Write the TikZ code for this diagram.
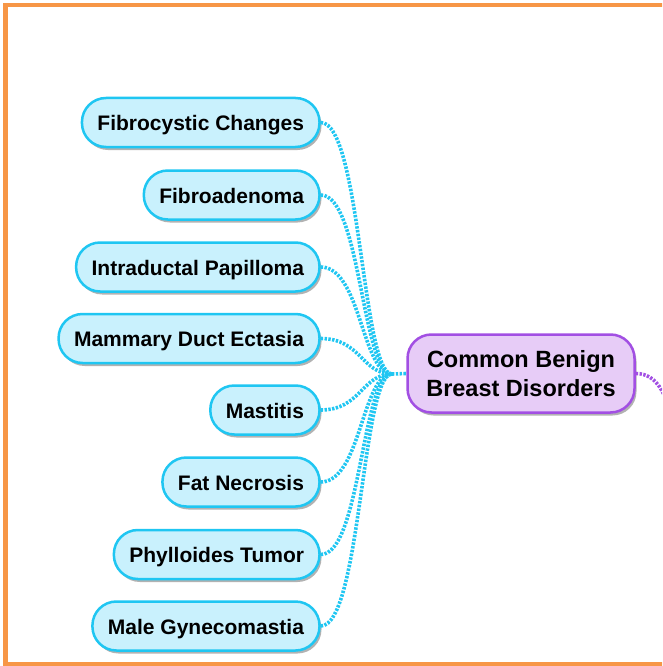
\documentclass[tikz,border=0pt]{standalone}
\usepackage{fontspec}
\setmainfont{Liberation Sans}
\usetikzlibrary{shadows}

\definecolor{leafFill}{HTML}{C9F1FD}
\definecolor{leafLine}{HTML}{1FC6F2}
\definecolor{mainFill}{HTML}{E7CCF7}
\definecolor{mainLine}{HTML}{A24FE3}
\definecolor{frameOrange}{HTML}{F79646}

\tikzset{
  leaf/.style={draw=leafLine, fill=leafFill, line width=2.5pt, rounded corners=24pt,
    minimum height=49pt, inner xsep=15.5pt, text height=16pt, text depth=0pt, anchor=east,
    font=\bfseries\fontsize{21}{25}\selectfont,
    drop shadow={shadow xshift=2pt, shadow yshift=-3pt, opacity=0.3, fill=black}},
  topic/.style={draw=mainLine, fill=mainFill, line width=2.5pt, rounded corners=24pt,
    minimum width=227pt, minimum height=78pt, align=center,
    font=\bfseries\fontsize{23.5}{28.2}\selectfont,
    drop shadow={shadow xshift=2pt, shadow yshift=-3pt, opacity=0.3, fill=black}},
  cyandots/.style={draw=leafLine, line width=3.6pt, dash pattern=on 2.4pt off 1.4pt},
  purpledots/.style={draw=mainLine, line width=3.6pt, dash pattern=on 2.4pt off 1.4pt}
}

\begin{document}
\begin{tikzpicture}[x=1pt, y=-1pt]
  \clip (0,0) rectangle (662,666);
  % frame
  \draw[frameOrange, line width=4.5pt] (5.5,5) rectangle (720,664);

  % main topic
  \node[topic] (benign) at (521,373.5) {Common Benign\\Breast Disorders};
  \coordinate (hub) at (392,374);

  % disorders
  \node[leaf] (fibro) at (320.75,122.5) {Fibrocystic Changes};
  \node[leaf] (adeno) at (320.75,195) {Fibroadenoma};
  \node[leaf] (papilloma) at (320.75,267) {Intraductal Papilloma};
  \node[leaf] (ectasia) at (320.75,338.5) {Mammary Duct Ectasia};
  \node[leaf] (mastitis) at (320.75,410) {Mastitis};
  \node[leaf] (necrosis) at (320.75,482) {Fat Necrosis};
  \node[leaf] (phyllo) at (320.75,554.5) {Phylloides Tumor};
  \node[leaf] (gyneco) at (320.75,626) {Male Gynecomastia};

  % connectors
  \draw[cyandots] (fibro.east) .. controls +(40,0) and +(-30,0) .. (hub);
  \draw[cyandots] (adeno.east) .. controls +(40,0) and +(-30,0) .. (hub);
  \draw[cyandots] (papilloma.east) .. controls +(40,0) and +(-30,0) .. (hub);
  \draw[cyandots] (ectasia.east) .. controls +(40,0) and +(-30,0) .. (hub);
  \draw[cyandots] (mastitis.east) .. controls +(40,0) and +(-30,0) .. (hub);
  \draw[cyandots] (necrosis.east) .. controls +(40,0) and +(-30,0) .. (hub);
  \draw[cyandots] (phyllo.east) .. controls +(40,0) and +(-30,0) .. (hub);
  \draw[cyandots] (gyneco.east) .. controls +(40,0) and +(-30,0) .. (hub);
  \draw[cyandots] (hub) -- (benign.west);
  \draw[purpledots] (benign.east) .. controls +(22,0) and +(-6,-25) .. (672,420);
\end{tikzpicture}
\end{document}
